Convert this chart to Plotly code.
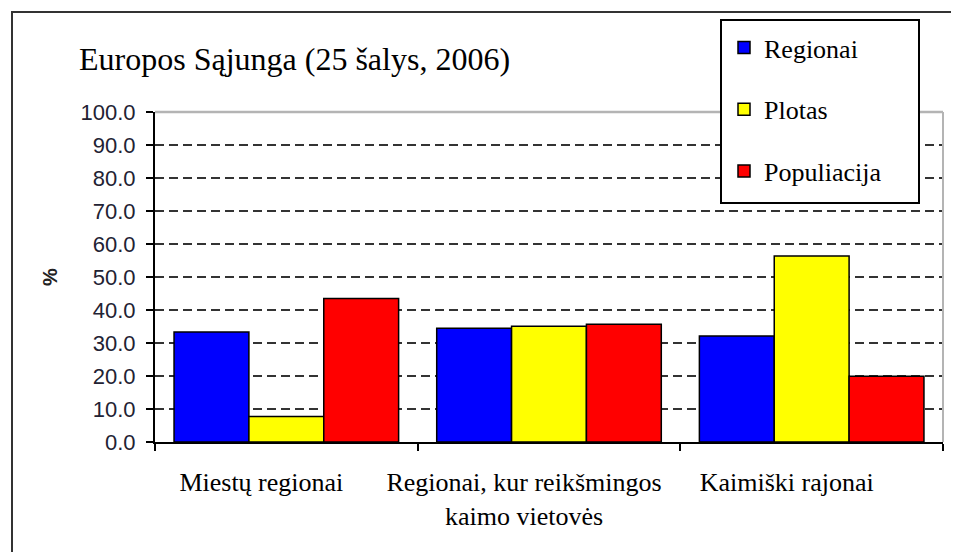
import plotly.graph_objects as go

categories = ["Miestų regionai", "Regionai, kur reikšmingos<br>kaimo vietovės", "Kaimiški rajonai"]
series_names = ["Regionai", "Plotas", "Populiacija"]
regionai = [33.3, 34.5, 32.1]
plotas = [7.7, 35.1, 56.4]
populiacija = [43.5, 35.7, 19.9]
y_ticks = [0, 10, 20, 30, 40, 50, 60, 70, 80, 90, 100]
title_text = "Europos Sąjunga (25 šalys, 2006)"

colors = ["#0000FF", "#FFFF00", "#FF0000"]
serif = "Liberation Serif, Times New Roman, serif"
sans = "Liberation Sans, Arial, sans-serif"

fig = go.Figure()
for i, (name, vals) in enumerate(zip(series_names, [regionai, plotas, populiacija])):
    fig.add_trace(go.Bar(
        x=categories, y=vals, name=name, legendgroup=name,
        marker=dict(color=colors[i], line=dict(color="#000000", width=1.5)),
    ))

# page offset of the plot div (default body margin)
OFF = 8
W, H = 959, 552
# desired plot area in page pixels: x 155..943, y 112..442
L = 155 - OFF
T = 112 - OFF
R = W - (943 - OFF)
B = H - (442 - OFF)
pw, ph = W - L - R, H - T - B

def px_x(p):
    return (p - OFF - L) / pw

def px_y(p):
    return (H - B - (p - OFF)) / ph

fig.update_layout(
    width=W, height=H,
    margin=dict(l=L, r=R, t=T, b=B, autoexpand=False),
    paper_bgcolor="white", plot_bgcolor="white",
    barmode="group", bargap=0.145, bargroupgap=0,
    showlegend=True,
    title=dict(text=title_text, font=dict(family=serif, size=32, color="#000000"),
               x=(79 - OFF) / W, xanchor="left", xref="container",
               y=1 - (59 - OFF) / H, yanchor="middle", yref="container"),
    legend=dict(x=px_x(724), y=px_y(24), xanchor="left", yanchor="top",
                bgcolor="rgba(0,0,0,0)", borderwidth=0,
                font=dict(family=serif, size=26, color="#000000"),
                tracegroupgap=25, traceorder="grouped"),
    xaxis=dict(type="category", showline=True, linecolor="#000000", linewidth=2,
               ticks="outside", tickson="boundaries", ticklen=7, tickwidth=2,
               tickcolor="#000000", showgrid=False, tickangle=0, automargin=False,
               tickfont=dict(family=serif, size=26, color="#000000"),
               ticklabelshift=-25, ticklabelstandoff=16),
    yaxis=dict(range=[0, 100], tickmode="array", tickvals=y_ticks,
               ticktext=[f"{v:.1f}" for v in y_ticks],
               showline=True, linecolor="#000000", linewidth=2, automargin=False,
               ticks="outside", ticklen=7, tickwidth=2, tickcolor="#000000",
               showgrid=True, gridcolor="#333333", gridwidth=2, griddash="9px,5px",
               zeroline=False,
               tickfont=dict(family=sans, size=22, color="#222233"),
               ticklabelstandoff=6,
               title=dict(text="<b>%</b>", font=dict(family=sans, size=20, color="#222222"),
                          standoff=18)),
    shapes=[
        # outer chart border
        dict(type="rect", xref="paper", yref="paper",
             x0=px_x(12), x1=px_x(975), y0=px_y(570), y1=px_y(12),
             line=dict(color="#333333", width=2), fillcolor="rgba(0,0,0,0)", layer="below"),
        # plot area top and right border
        dict(type="line", xref="paper", yref="paper", x0=0, x1=1, y0=1, y1=1,
             line=dict(color="#b4b4b4", width=2.5), layer="above"),
        dict(type="line", xref="paper", yref="paper", x0=1, x1=1, y0=0, y1=1,
             line=dict(color="#b4b4b4", width=2), layer="above"),
        # legend box
        dict(type="rect", xref="paper", yref="paper",
             x0=px_x(721), x1=px_x(919), y0=px_y(203), y1=px_y(20),
             line=dict(color="#000000", width=2), fillcolor="white", layer="above"),
    ],
)

fig.write_html("out.html")
